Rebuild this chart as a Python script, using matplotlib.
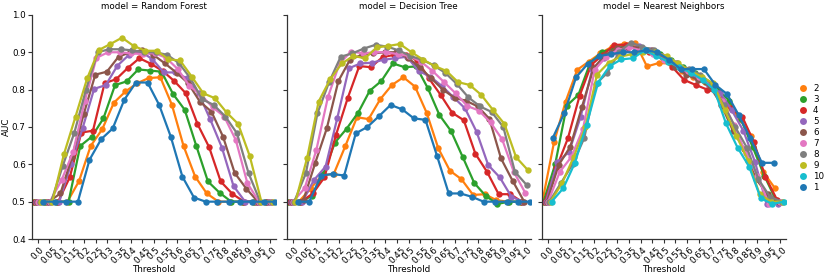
import numpy as np
import matplotlib
matplotlib.use("Agg")
import matplotlib.pyplot as plt
from matplotlib.lines import Line2D

# threshold categories (x axis)
thresholds = ['0.0', '0.05', '0.1', '0.15', '0.2', '0.25', '0.3', '0.35', '0.4', '0.45', '0.5',
              '0.55', '0.6', '0.65', '0.7', '0.75', '0.8', '0.85', '0.9', '0.95', '1.0']

# hue levels in legend order and their colours
hue_levels = ['2', '3', '4', '5', '6', '7', '8', '9', '10', '1']
hue_colors = ['#ff7f0e', '#2ca02c', '#d62728', '#9467bd', '#8c564b',
              '#e377c2', '#7f7f7f', '#bcbd22', '#17becf', '#1f77b4']

models = ['Random Forest', 'Decision Tree', 'Nearest Neighbors']

# AUC values per model, per hue level
rf_auc = {
    '2': [.5, .5, .5, .5, .555, .649, .694, .765, .795, .817, .831, .833, .759, .649, .567, .522, .5, .5, .5, .5, .5],
    '3': [.5, .5, .5, .5, .649, .674, .723, .812, .822, .854, .851, .848, .788, .746, .649, .554, .524, .5, .5, .5, .5],
    '4': [.5, .5, .5, .565, .685, .69, .817, .828, .858, .884, .869, .85, .823, .79, .708, .646, .554, .521, .5, .5, .5],
    '5': [.5, .5, .5, .6, .696, .802, .812, .864, .893, .902, .882, .846, .846, .83, .79, .72, .645, .542, .5, .5, .5],
    '6': [.5, .5, .522, .62, .734, .84, .848, .888, .9, .905, .893, .87, .845, .817, .768, .741, .674, .577, .535, .5, .5],
    '7': [.5, .5, .558, .634, .77, .885, .9, .9, .897, .895, .898, .885, .855, .81, .786, .753, .728, .665, .549, .5, .5],
    '8': [.5, .5, .596, .685, .8, .9, .908, .908, .905, .9, .9, .893, .871, .83, .774, .759, .728, .683, .576, .5, .5],
    '9': [.5, .5, .627, .728, .83, .906, .922, .939, .917, .904, .904, .881, .878, .835, .79, .777, .739, .708, .622, .5, .5],
    '10': [np.nan] * 21,
    '1': [.5, .5, .5, .5, .612, .667, .696, .773, .819, .819, .759, .674, .567, .511, .5, .5, .5, .5, .5, .5, .5],
}
dt_auc = {
    '2': [.5, .5, .535, .571, .574, .649, .726, .721, .774, .812, .833, .808, .738, .643, .583, .56, .518, .52, .504, .5, .5],
    '3': [.5, .5, .515, .574, .658, .695, .738, .797, .823, .87, .86, .862, .804, .732, .689, .62, .55, .515, .494, .5, .5],
    '4': [.5, .5, .522, .565, .679, .777, .863, .86, .887, .893, .893, .878, .83, .786, .738, .718, .628, .58, .52, .52, .5],
    '5': [.5, .5, .558, .594, .723, .857, .87, .872, .88, .884, .888, .85, .835, .81, .78, .75, .687, .598, .565, .513, .5],
    '6': [.5, .505, .603, .696, .823, .88, .893, .897, .9, .9, .885, .86, .83, .8, .778, .77, .755, .722, .616, .556, .5],
    '7': [.5, .536, .638, .78, .87, .902, .897, .9, .9, .895, .89, .875, .85, .82, .79, .756, .744, .712, .667, .58, .523],
    '8': [.5, .576, .737, .82, .888, .897, .91, .92, .915, .905, .89, .88, .865, .845, .815, .779, .755, .74, .7, .58, .545],
    '9': [.5, .616, .768, .828, .87, .89, .884, .913, .917, .922, .9, .88, .863, .85, .82, .8125, .786, .746, .708, .619, .585],
    '10': [np.nan] * 21,
    '1': [.5, .5, .57, .574, .57, .683, .7, .729, .759, .747, .723, .719, .622, .522, .522, .513, .5, .5, .5, .5, .5],
}
nn_auc = {
    '2': [.5, .659, .768, .853, .875, .897, .915, .922, .926, .862, .871, .87, .85, .835, .82, .8, .76, .72, .676, .58, .537],
    '3': [.5, .6, .757, .786, .87, .9, .91, .915, .91, .905, .895, .88, .86, .845, .82, .8, .77, .72, .647, .57, .505],
    '4': [.5, .59, .67, .783, .866, .893, .92, .92, .91, .9, .89, .86, .826, .8125, .8, .79, .75, .728, .66, .567, .505],
    '5': [.5, .605, .634, .728, .855, .885, .9, .91, .917, .906, .89, .87, .85, .83, .815, .792, .745, .69, .607, .494, .494],
    '6': [.5, .598, .647, .753, .857, .893, .912, .915, .912, .905, .885, .86, .84, .826, .81, .76, .69, .64, .56, .52, .5],
    '7': [.5, .58, .62, .695, .853, .888, .906, .913, .905, .895, .88, .87, .85, .835, .815, .77, .705, .63, .57, .495, .5],
    '8': [.5, .55, .6, .67, .815, .845, .9, .926, .915, .905, .885, .87, .855, .84, .815, .76, .7, .645, .56, .513, .5],
    '9': [.5, .55, .62, .7, .84, .872, .888, .895, .9, .9, .89, .87, .85, .835, .817, .745, .677, .61, .52, .5, .5],
    '10': [.5, .536, .604, .705, .819, .863, .881, .884, .905, .89, .875, .86, .845, .826, .8, .71, .645, .594, .509, .494, .5],
    '1': [.671, .738, .833, .869, .89, .895, .9, .9, .905, .9, .88, .855, .855, .855, .8125, .788, .732, .67, .604, .604, np.nan],
}
model_data = [rf_auc, dt_auc, nn_auc]

plt.rcParams['font.family'] = 'DejaVu Sans'
plt.rcParams['font.size'] = 6.3

fig = plt.figure(figsize=(8.31, 2.76), dpi=100)
lefts = [0.0385, 0.345, 0.652]
width = 0.2935
bottom, top = 0.134, 0.946
dodge = 0.9
offsets = np.linspace(-dodge / 2, dodge / 2, len(hue_levels))
x = np.arange(len(thresholds))

for m, (name, data) in enumerate(zip(models, model_data)):
    ax = fig.add_axes([lefts[m], bottom, width, top - bottom])
    for k, hue in enumerate(hue_levels):
        ax.plot(x + offsets[k], data[hue], '-o', color=hue_colors[k],
                lw=1.6, ms=4.6, mew=0)
    ax.set_xlim(-0.5, len(thresholds) - 0.5)
    ax.set_ylim(0.4, 1.0)
    ax.set_yticks([0.4, 0.5, 0.6, 0.7, 0.8, 0.9, 1.0])
    ax.set_xticks(x)
    ax.set_xticklabels(thresholds, rotation=45)
    ax.set_xlabel('Threshold', labelpad=0)
    ax.set_title('model = ' + name, fontsize=6.3, pad=4)
    for s in ['top', 'right']:
        ax.spines[s].set_visible(False)
    for s in ['left', 'bottom']:
        ax.spines[s].set_color('#333333')
        ax.spines[s].set_linewidth(0.9)
    ax.tick_params(length=3, width=0.8, color='#333333', pad=1.5)
    if m == 0:
        ax.set_ylabel('AUC', labelpad=1)
    else:
        ax.tick_params(labelleft=False)

handles = [Line2D([], [], marker='o', ls='none', color=c, ms=5, mew=0) for c in hue_colors]
fig.legend(handles, hue_levels, loc='center left', bbox_to_anchor=(0.951, 0.5),
           frameon=False, handletextpad=0.5, labelspacing=0.22, handlelength=1.2,
           fontsize=6.3)

fig.savefig('out.png', dpi=100)
